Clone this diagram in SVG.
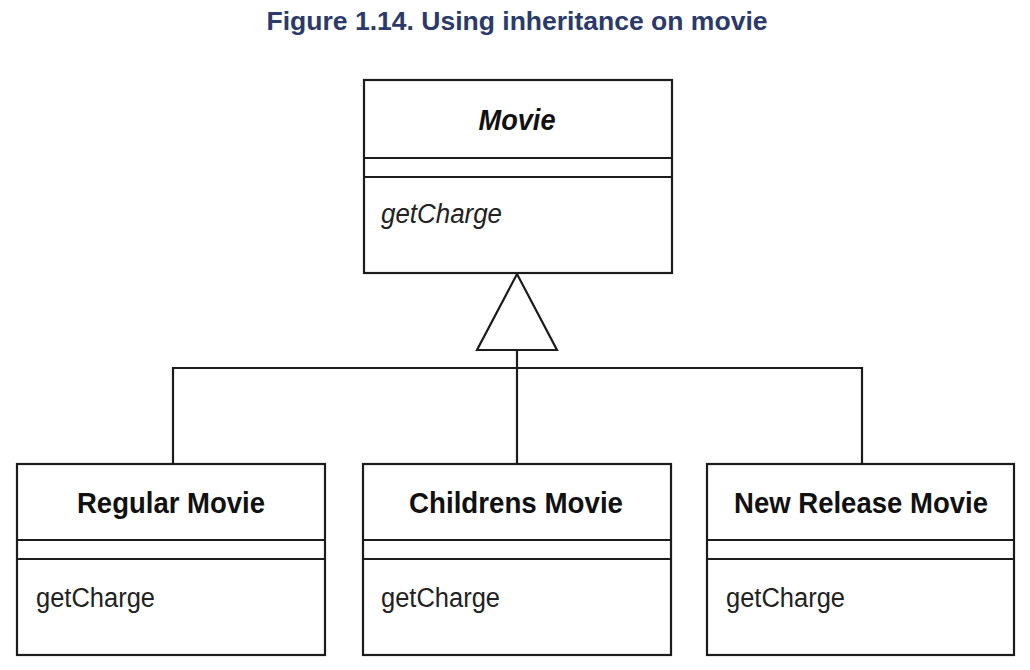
<svg xmlns="http://www.w3.org/2000/svg" width="1030" height="670" viewBox="0 0 1030 670">
  <style>
    .box { fill: #ffffff; stroke: #1c1c1c; stroke-width: 2.2; }
    .rule { stroke: #1c1c1c; stroke-width: 2.2; fill: none; }
    .edge { stroke: #1c1c1c; stroke-width: 2.2; fill: none; }
    .head { fill: #ffffff; stroke: #1c1c1c; stroke-width: 2.2; stroke-linejoin: miter; }
    .caption { font-family: "Liberation Sans", Arial, sans-serif; font-weight: bold; font-size: 26px; fill: #2b3a6b; }
    .name { font-family: "Liberation Sans", Arial, sans-serif; font-weight: bold; font-size: 29px; fill: #111111; }
    .op { font-family: "Liberation Sans", Arial, sans-serif; font-size: 27px; fill: #222222; }
  </style>

  <text class="caption" x="517" y="30" text-anchor="middle" textLength="501" lengthAdjust="spacingAndGlyphs">Figure 1.14. Using inheritance on movie</text>

  <!-- generalization connectors -->
  <g id="connectors">
    <polyline class="edge" points="173,463 173,368 862,368 862,463"/>
    <line class="edge" x1="517" y1="350" x2="517" y2="463"/>
    <polygon class="head" points="517,274 557,350 477,350"/>
  </g>

  <!-- abstract superclass -->
  <g id="movie">
    <rect class="box" x="364" y="80" width="308" height="193"/>
    <line class="rule" x1="364" y1="158" x2="672" y2="158"/>
    <line class="rule" x1="364" y1="177" x2="672" y2="177"/>
    <text class="name" x="517" y="130" text-anchor="middle" font-style="italic" textLength="77" lengthAdjust="spacingAndGlyphs">Movie</text>
    <text class="op" x="381" y="223" font-style="italic" textLength="121" lengthAdjust="spacingAndGlyphs">getCharge</text>
  </g>

  <g id="regular-movie">
    <rect class="box" x="17" y="464" width="308" height="191"/>
    <line class="rule" x1="17" y1="540" x2="325" y2="540"/>
    <line class="rule" x1="17" y1="559" x2="325" y2="559"/>
    <text class="name" x="171" y="513" text-anchor="middle" textLength="188" lengthAdjust="spacingAndGlyphs">Regular Movie</text>
    <text class="op" x="36" y="607" textLength="119" lengthAdjust="spacingAndGlyphs">getCharge</text>
  </g>

  <g id="childrens-movie">
    <rect class="box" x="363" y="464" width="308" height="191"/>
    <line class="rule" x1="363" y1="540" x2="671" y2="540"/>
    <line class="rule" x1="363" y1="559" x2="671" y2="559"/>
    <text class="name" x="516" y="513" text-anchor="middle" textLength="214" lengthAdjust="spacingAndGlyphs">Childrens Movie</text>
    <text class="op" x="381" y="607" textLength="119" lengthAdjust="spacingAndGlyphs">getCharge</text>
  </g>

  <g id="new-release-movie">
    <rect class="box" x="707" y="464" width="307" height="191"/>
    <line class="rule" x1="707" y1="540" x2="1014" y2="540"/>
    <line class="rule" x1="707" y1="559" x2="1014" y2="559"/>
    <text class="name" x="861" y="513" text-anchor="middle" textLength="254" lengthAdjust="spacingAndGlyphs">New Release Movie</text>
    <text class="op" x="726" y="607" textLength="119" lengthAdjust="spacingAndGlyphs">getCharge</text>
  </g>
</svg>
